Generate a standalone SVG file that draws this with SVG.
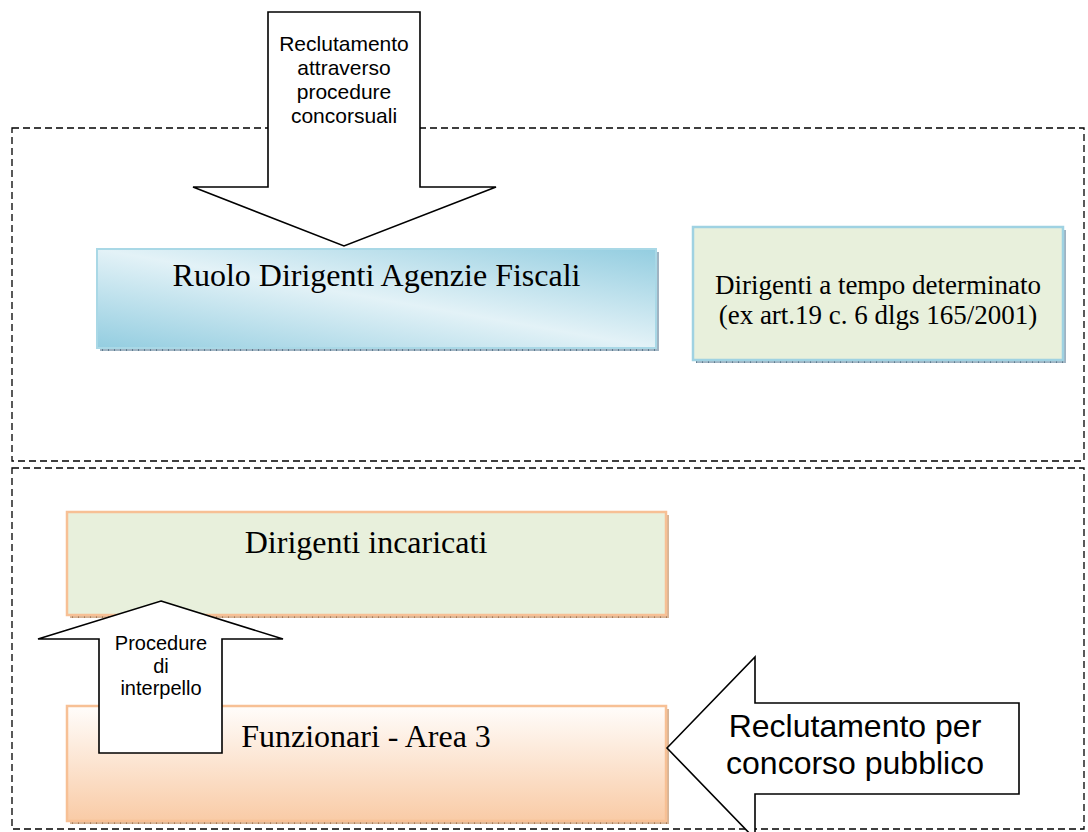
<svg xmlns="http://www.w3.org/2000/svg" width="1088" height="832" viewBox="0 0 1088 832">
<defs>
<linearGradient id="gBlue" x1="0" y1="1" x2="1" y2="0">
<stop offset="0" stop-color="#93cde0"/>
<stop offset="0.5" stop-color="#e3f2f7"/>
<stop offset="1" stop-color="#93cde0"/>
</linearGradient>
<linearGradient id="gOrange" x1="0" y1="0" x2="0" y2="1">
<stop offset="0" stop-color="#fffdfb"/>
<stop offset="1" stop-color="#f9cba6"/>
</linearGradient>
<pattern id="pBlue" width="6" height="4" patternUnits="userSpaceOnUse">
<rect width="6" height="4" fill="#9fb3c2"/>
<rect width="1" height="4" fill="#5f7b8e"/>
</pattern>
<pattern id="pOrange" width="6" height="4" patternUnits="userSpaceOnUse">
<rect width="6" height="4" fill="#d7b496"/>
<rect width="1" height="4" fill="#a77b58"/>
</pattern>
</defs>
<style>
.dash{fill:none;stroke:#000;stroke-width:1.3;stroke-dasharray:7,4}
.arrow{fill:#fff;stroke:#000;stroke-width:1.6;stroke-linejoin:miter}
.serif{font-family:"Liberation Serif","Times New Roman",serif;fill:#000;text-anchor:middle}
.sans{font-family:"Liberation Sans",Arial,sans-serif;fill:#000;text-anchor:middle}
</style>

<g id="group-top">
<rect class="dash" x="12" y="128" width="1072" height="333"/>
</g>
<g id="group-bottom">
<rect class="dash" x="12" y="468" width="1072" height="361"/>
</g>

<g id="node-ruolo">
<rect x="100" y="252" width="559" height="99" fill="url(#pBlue)"/>
<rect x="97" y="249" width="559" height="99" fill="url(#gBlue)" stroke="#a9d8e6" stroke-width="2"/>
<text class="serif" x="376.5" y="286" font-size="32">Ruolo Dirigenti Agenzie Fiscali</text>
</g>

<g id="node-tempo">
<rect x="696" y="230" width="370" height="133" fill="url(#pBlue)"/>
<rect x="693" y="227" width="370" height="133" fill="#e8f0dc" stroke="#9fd2e2" stroke-width="2.5"/>
<text class="serif" x="878" y="294" font-size="27">Dirigenti a tempo determinato</text>
<text class="serif" x="878" y="324" font-size="27">(ex art.19 c. 6 dlgs 165/2001)</text>
</g>

<g id="node-incaricati">
<rect x="70" y="515" width="599" height="103" fill="url(#pOrange)"/>
<rect x="67" y="512" width="599" height="103" fill="#e8f0dc" stroke="#f7c095" stroke-width="2.5"/>
<text class="serif" x="366" y="553" font-size="32">Dirigenti incaricati</text>
</g>

<g id="node-funzionari">
<rect x="70" y="709" width="599" height="115" fill="url(#pOrange)"/>
<rect x="67" y="706" width="599" height="115" fill="url(#gOrange)" stroke="#f7c095" stroke-width="2.5"/>
<text class="serif" x="366" y="747" font-size="32">Funzionari - Area 3</text>
</g>

<g id="connectors">
<g id="arrow-concorsuali">
<polygon class="arrow" points="268,12 420,12 420,187 496,187 344,246 193,187 268,187"/>
<text class="sans" x="344" y="51" font-size="21">Reclutamento</text>
<text class="sans" x="344" y="75" font-size="21">attraverso</text>
<text class="sans" x="344" y="99" font-size="21">procedure</text>
<text class="sans" x="344" y="123" font-size="21">concorsuali</text>
</g>
<g id="arrow-interpello">
<polygon class="arrow" points="161,601 283,639 222,639 222,753 99,753 99,639 38,639"/>
<text class="sans" x="161" y="650" font-size="20">Procedure</text>
<text class="sans" x="161" y="673" font-size="20">di</text>
<text class="sans" x="161" y="695" font-size="20">interpello</text>
</g>
<g id="arrow-pubblico">
<polygon class="arrow" points="667,748 755,657 755,703 1019,703 1019,794 755,794 755,839"/>
<text class="sans" x="855" y="737" font-size="32">Reclutamento per</text>
<text class="sans" x="855" y="774" font-size="32">concorso pubblico</text>
</g>
</g>
</svg>
